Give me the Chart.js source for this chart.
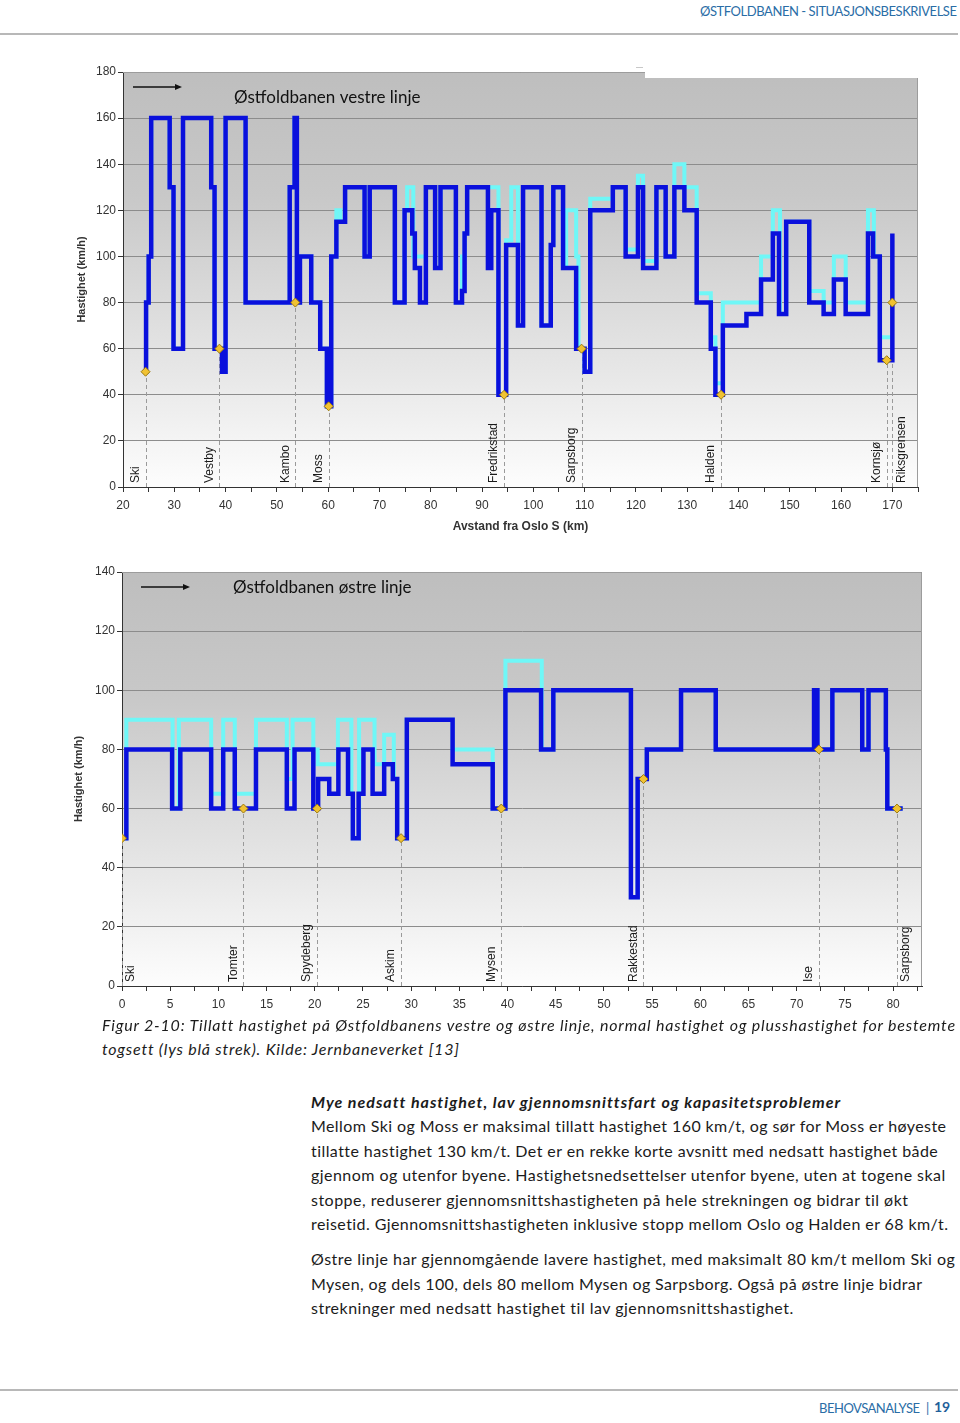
<!DOCTYPE html>
<html>
<head>
<meta charset="utf-8">
<script src="https://cdn.jsdelivr.net/npm/chart.js@4.4.1/dist/chart.umd.min.js"></script>
<style>
body { margin: 0; width: 960px; height: 1423px; position: relative; overflow: hidden; background: #fff;
       font-family: Lato, "Open Sans", sans-serif; color: #1b1b1b; }
.ln { position: absolute; white-space: nowrap; font-size: 16px; line-height: 22px; }
.rule { position: absolute; left: 0; width: 958px; height: 2px; background: #b8b8b8; }
canvas { position: absolute; }
</style>
</head>
<body>

<div class="ln fit" data-w="257" style="left:700px;top:2px;font-size:13px;line-height:18px;color:#2a6da6">ØSTFOLDBANEN - SITUASJONSBESKRIVELSE</div>
<div class="rule" style="top:33px"></div>

<canvas id="vestre" width="870" height="490" style="left:60px;top:55px"></canvas>
<canvas id="ostre" width="870" height="460" style="left:60px;top:555px"></canvas>

<div class="ln fit" data-w="851" style="left:102px;top:1014px;font-style:italic">Figur 2-10: Tillatt hastighet på Østfoldbanens vestre og østre linje, normal hastighet og plusshastighet for bestemte</div>
<div class="ln fit" data-w="356" style="left:102px;top:1038px;font-style:italic">togsett (lys blå strek). Kilde: Jernbaneverket [13]</div>

<div class="ln fit" data-w="527" style="left:311px;top:1091px;font-style:italic;font-weight:bold">Mye nedsatt hastighet, lav gjennomsnittsfart og kapasitetsproblemer</div>
<div class="ln fit" data-w="635" style="left:311px;top:1115px">Mellom Ski og Moss er maksimal tillatt hastighet 160 km/t, og sør for Moss er høyeste</div>
<div class="ln fit" data-w="626" style="left:311px;top:1140px">tillatte hastighet 130 km/t. Det er en rekke korte avsnitt med nedsatt hastighet både</div>
<div class="ln fit" data-w="634" style="left:311px;top:1164px">gjennom og utenfor byene. Hastighetsnedsettelser utenfor byene, uten at togene skal</div>
<div class="ln fit" data-w="597" style="left:311px;top:1189px">stoppe, reduserer gjennomsnittshastigheten på hele strekningen og bidrar til økt</div>
<div class="ln fit" data-w="637" style="left:311px;top:1213px">reisetid. Gjennomsnittshastigheten inklusive stopp mellom Oslo og Halden er 68 km/t.</div>
<div class="ln fit" data-w="644" style="left:311px;top:1248px">Østre linje har gjennomgående lavere hastighet, med maksimalt 80 km/t mellom Ski og</div>
<div class="ln fit" data-w="611" style="left:311px;top:1273px">Mysen, og dels 100, dels 80 mellom Mysen og Sarpsborg. Også på østre linje bidrar</div>
<div class="ln fit" data-w="482" style="left:311px;top:1297px">strekninger med nedsatt hastighet til lav gjennomsnittshastighet.</div>

<div class="rule" style="top:1389px"></div>
<div class="ln fit" data-w="101" style="left:819px;top:1399px;font-size:13px;line-height:18px;color:#2a6da6">BEHOVSANALYSE</div>
<div class="ln" style="left:926px;top:1399px;font-size:13px;line-height:18px;color:#2a6da6">|</div>
<div class="ln" style="left:934px;top:1398px;font-size:14px;line-height:18px;font-weight:bold;color:#1f5f9a">19</div>

<script>
// Vestre linje: km from Oslo S where each speed starts, normal speed and plus speed
const vestreKm = [24.3, 24.5, 25.0, 25.5, 29.1, 29.85, 31.7, 37.2, 37.85, 39.3, 40.0, 43.9, 52.5, 53.45, 53.9, 54.5,
  56.7, 58.45, 59.75, 60.6, 61.6, 63.3, 67.1, 68.1, 73.0, 74.9, 76.4, 76.9, 77.9, 79.05, 80.85, 81.9, 84.9, 86.1,
  86.6, 87.1, 91.15, 91.8, 93.2, 94.7, 97.0, 98.0, 101.6, 103.4, 103.9, 105.8, 108.35, 110.0, 111.1, 115.5, 118.0,
  120.4, 121.4, 124.0, 125.8, 127.5, 129.45, 131.85, 134.6, 135.5, 136.95, 141.55, 144.4, 146.7, 147.9, 149.3,
  153.8, 156.6, 158.6, 160.9, 165.25, 166.25, 167.55, 170.0];
const vestreNormal = [50, 80, 100, 160, 130, 60, 160, 130, 60, 50, 160, 80, 130, 160, 80, 100,
  80, 60, 35, 100, 115, 130, 100, 130, 80, 120, 110, 95, 80, 130, 95, 130, 80, 85,
  110, 130, 95, 120, 40, 105, 70, 130, 70, 105, 130, 95, 60, 50, 120, 130, 100,
  130, 95, 130, 100, 130, 120, 80, 60, 40, 70, 75, 90, 110, 75, 115,
  80, 75, 90, 75, 110, 100, 55, 110];

const vestrePlussKm = [24.3, 24.5, 25.0, 25.5, 29.1, 29.85, 31.7, 37.2, 37.85, 39.3, 40.0, 43.9, 52.5, 53.45, 53.9, 54.5,
  56.7, 58.45, 59.75, 60.6, 61.6, 62.4, 63.3, 67.1, 68.1, 73.0, 74.9, 75.4, 76.6, 79.05, 80.85, 81.9, 84.9, 86.1,
  86.6, 87.1, 93.2, 94.7, 95.7, 97.0, 98.0, 101.6, 103.4, 103.9, 105.8, 106.4, 108.35, 108.8, 110.0, 111.1, 115.5,
  118.0, 120.4, 121.4, 124.0, 125.8, 127.5, 129.45, 131.85, 134.6, 135.5, 136.95, 144.4, 146.7, 148.1, 149.3,
  153.8, 156.6, 158.6, 160.9, 165.25, 166.4, 167.55, 170.0];
const vestrePluss = [50, 80, 100, 160, 130, 60, 160, 130, 60, 50, 160, 80, 130, 160, 80, 100,
  80, 60, 35, 100, 120, 115, 130, 100, 130, 80, 120, 130, 100, 130, 95, 130, 80, 100,
  110, 130, 40, 107, 130, 70, 130, 70, 105, 130, 95, 120, 100, 60, 50, 125, 130,
  103, 135, 98, 130, 100, 140, 130, 84, 65, 45, 80, 100, 120, 75, 115,
  85, 80, 100, 80, 120, 100, 65, 65];

const vestreStations = ['Ski', 'Vestby', 'Kambo', 'Moss', 'Fredrikstad', 'Sarpsborg', 'Halden', 'Kornsjø', 'Riksgrensen'];
const vestreStationKm = [24.4, 38.8, 53.6, 60.1, 94.3, 109.4, 136.6, 168.9, 170.0];
const vestreStationSpeed = [50, 60, 80, 35, 40, 60, 40, 55, 80];

// Østre linje: km from Ski
const ostreKm = [0, 0.45, 5.2, 6.05, 9.25, 10.5, 11.7, 13.9, 17.1, 17.9, 19.85, 20.35, 21.5, 22.45, 23.45, 23.95,
  24.55, 25.05, 26.0, 27.2, 28.1, 28.55, 29.55, 34.3, 38.46, 39.78, 43.48, 44.75, 52.8, 53.5, 54.45, 58.0, 61.6,
  71.8, 72.15, 73.7, 76.8, 77.45, 79.25, 79.4, 81.0];
const ostreNormal = [50, 80, 60, 80, 60, 80, 60, 80, 60, 80, 60, 70, 65, 80, 65, 50,
  65, 80, 65, 75, 70, 50, 90, 75, 60, 100, 80, 100, 30, 70, 80, 100, 80,
  100, 80, 100, 80, 100, 80, 60, 60];

const ostrePlussKm = [0, 0.45, 5.25, 5.9, 9.25, 10.5, 11.7, 13.9, 17.1, 17.7, 19.85, 20.3, 22.4, 23.8, 23.95,
  24.6, 26.2, 27.2, 28.2, 28.55, 29.55, 34.3, 38.46, 39.78, 43.55, 44.75, 52.8, 53.5, 54.45, 58.0, 61.6,
  71.8, 72.15, 73.7, 76.8, 77.45, 79.25, 79.4, 81.0];
const ostrePluss = [50, 90, 60, 90, 65, 90, 65, 90, 70, 90, 80, 75, 90, 65, 50,
  90, 75, 85, 70, 50, 90, 80, 60, 110, 80, 100, 30, 70, 80, 100, 80,
  100, 80, 100, 80, 100, 80, 60, 60];

const ostreStations = ['Ski', 'Tomter', 'Spydeberg', 'Askim', 'Mysen', 'Rakkestad', 'Ise', 'Sarpsborg'];
const ostreStationKm = [0, 12.6, 20.25, 28.95, 39.35, 54.1, 72.3, 80.4];
const ostreStationSpeed = [50, 60, 60, 50, 60, 70, 80, 60];

const toPts = (xs, ys) => xs.map((x, i) => ({ x: x, y: ys[i] }));

const trackPlugin = {
  id: 'track',
  beforeDraw(chart) {
    const { ctx, chartArea: a } = chart;
    const g = ctx.createLinearGradient(0, a.top, 0, a.bottom);
    g.addColorStop(0, '#bebebe');
    g.addColorStop(0.3, '#c8c8c8');
    g.addColorStop(0.75, '#e9e9e9');
    g.addColorStop(1, '#fdfdfd');
    ctx.save();
    ctx.fillStyle = g;
    ctx.fillRect(a.left, a.top, a.width, a.height);
    ctx.restore();
  },
  beforeDatasetsDraw(chart, args, o) {
    const { ctx, chartArea: a, scales } = chart;
    ctx.save();
    // arrow + title
    const ay = a.top + 15;
    ctx.strokeStyle = '#111';
    ctx.fillStyle = '#111';
    ctx.lineWidth = 1.5;
    ctx.beginPath();
    ctx.moveTo(a.left + o.arrow, ay);
    ctx.lineTo(a.left + o.arrow + 44, ay);
    ctx.stroke();
    ctx.beginPath();
    ctx.moveTo(a.left + o.arrow + 49, ay);
    ctx.lineTo(a.left + o.arrow + 42, ay - 3);
    ctx.lineTo(a.left + o.arrow + 42, ay + 3);
    ctx.closePath();
    ctx.fill();
    ctx.font = '17px Lato, "Open Sans", sans-serif';
    ctx.textBaseline = 'middle';
    ctx.fillText(o.title, a.left + 111, a.top + o.titleDy);
    // dashed station lines
    ctx.strokeStyle = '#9a9a9a';
    ctx.lineWidth = 1;
    ctx.setLineDash([4, 3]);
    o.km.forEach((k, i) => {
      const x = Math.round(scales.x.getPixelForValue(k)) + 0.5;
      ctx.beginPath();
      ctx.moveTo(x, scales.y.getPixelForValue(0));
      ctx.lineTo(x, scales.y.getPixelForValue(o.speed[i]));
      ctx.stroke();
    });
    ctx.restore();
  },
  afterDatasetsDraw(chart, args, o) {
    const { ctx, chartArea: a, scales } = chart;
    ctx.save();
    ctx.font = '12px "Liberation Sans", Arial, sans-serif';
    ctx.fillStyle = '#1a1a1a';
    ctx.textBaseline = 'middle';
    ctx.textAlign = 'left';
    o.names.forEach((n, i) => {
      const x = scales.x.getPixelForValue(o.km[i]) + (o.right.includes(i) ? 9 : -10);
      ctx.save();
      ctx.translate(x, a.bottom - 4);
      ctx.rotate(-Math.PI / 2);
      ctx.fillText(n, 0, 0);
      ctx.restore();
    });
    // plot frame
    ctx.strokeStyle = '#9c9c9c';
    ctx.lineWidth = 1;
    ctx.beginPath();
    ctx.moveTo(a.left, a.top + 0.5);
    ctx.lineTo(a.right - 0.5, a.top + 0.5);
    ctx.lineTo(a.right - 0.5, a.bottom);
    ctx.stroke();
    if (o.patch) {
      ctx.fillStyle = '#ffffff';
      ctx.fillRect(a.right - 273, a.top - 6, 276, 12);
      ctx.fillStyle = '#c8c8c8';
      ctx.fillRect(a.right - 282, a.top - 5, 7, 1);
    }
    ctx.restore();
  }
};

function makeChart(id, cfg) {
  const datasets = [
    { data: toPts(cfg.stKm, cfg.stSpeed), showLine: false, pointStyle: 'rectRot', pointRadius: 4.5,
      pointBackgroundColor: '#f1c232', pointBorderColor: '#9a7a10', pointBorderWidth: 1, order: 0 },
    { data: toPts(cfg.km, cfg.normal), stepped: 'before', borderColor: '#0a10dc', borderWidth: 4.5,
      pointRadius: 0, borderJoinStyle: 'miter', borderCapStyle: 'butt', order: 1 },
    { data: toPts(cfg.plusKm, cfg.plus), stepped: 'before', borderColor: '#6ff7f7', borderWidth: 4,
      pointRadius: 0, borderJoinStyle: 'miter', borderCapStyle: 'butt', order: 2 }
  ];
  return new Chart(document.getElementById(id), {
    type: 'line',
    data: { datasets: datasets },
    plugins: [trackPlugin],
    options: {
      responsive: false,
      animation: false,
      events: [],
      layout: { padding: { left: 0, right: cfg.padRight, top: 17, bottom: 0 } },
      plugins: {
        legend: { display: false },
        tooltip: { enabled: false },
        track: { title: cfg.title, titleDy: cfg.titleDy, arrow: cfg.arrow, names: cfg.stations,
                 km: cfg.stKm, speed: cfg.stSpeed, right: cfg.right, patch: cfg.patch }
      },
      scales: {
        x: {
          type: 'linear', min: cfg.xMin, max: cfg.xMax,
          afterFit: s => { s.height = cfg.xHeight; },
          ticks: { stepSize: cfg.xStep, includeBounds: false, autoSkip: false, maxRotation: 0, padding: 6,
                   color: '#333', font: { family: '"Liberation Sans", Arial, sans-serif', size: 12 },
                   callback: v => (v % cfg.xLabelEvery === 0 ? v : '') },
          grid: { drawOnChartArea: false, tickLength: 5, tickColor: '#333' },
          border: { color: '#333' },
          title: { display: !!cfg.xTitle, text: cfg.xTitle, color: '#333', padding: { top: 0, bottom: 11 },
                   font: { family: '"Liberation Sans", Arial, sans-serif', size: 12, weight: 'bold' } }
        },
        y: {
          min: 0, max: cfg.yMax,
          afterFit: s => { s.width = cfg.yWidth; },
          ticks: { stepSize: 20, padding: 2, color: '#333',
                   font: { family: '"Liberation Sans", Arial, sans-serif', size: 12 } },
          grid: { color: '#8c8c8c', tickLength: 5, tickColor: '#333' },
          border: { color: '#333' },
          title: { display: true, text: 'Hastighet (km/h)', color: '#333', padding: { top: cfg.yTitlePad, bottom: 0 },
                   font: { family: '"Liberation Sans", Arial, sans-serif', size: 11, weight: 'bold' } }
        }
      }
    }
  });
}

makeChart('vestre', {
  km: vestreKm, normal: vestreNormal, plusKm: vestrePlussKm, plus: vestrePluss,
  stations: vestreStations, stKm: vestreStationKm, stSpeed: vestreStationSpeed, right: [8],
  title: 'Østfoldbanen vestre linje', titleDy: 26, arrow: 10, patch: true,
  xMin: 20, xMax: 175, xStep: 5, xLabelEvery: 10, yMax: 180,
  xTitle: 'Avstand fra Oslo S (km)', xHeight: 58, yWidth: 63, yTitlePad: 15, padRight: 12
});

makeChart('ostre', {
  km: ostreKm, normal: ostreNormal, plusKm: ostrePlussKm, plus: ostrePluss,
  stations: ostreStations, stKm: ostreStationKm, stSpeed: ostreStationSpeed, right: [0, 7],
  title: 'Østfoldbanen østre linje', titleDy: 16, arrow: 19, patch: false,
  xMin: 0, xMax: 83, xStep: 2.5, xLabelEvery: 5, yMax: 140,
  xTitle: '', xHeight: 29, yWidth: 62, yTitlePad: 12, padRight: 8
});

// stretch each text line to the width it has on the page
function fitLines() {
  document.querySelectorAll('.fit').forEach(el => {
    el.style.letterSpacing = '0px';
    const w = el.getBoundingClientRect().width;
    const n = el.textContent.length - 1;
    el.style.letterSpacing = ((+el.dataset.w - w) / n) + 'px';
  });
}
fitLines();
if (document.fonts) document.fonts.ready.then(fitLines);
</script>
</body>
</html>
